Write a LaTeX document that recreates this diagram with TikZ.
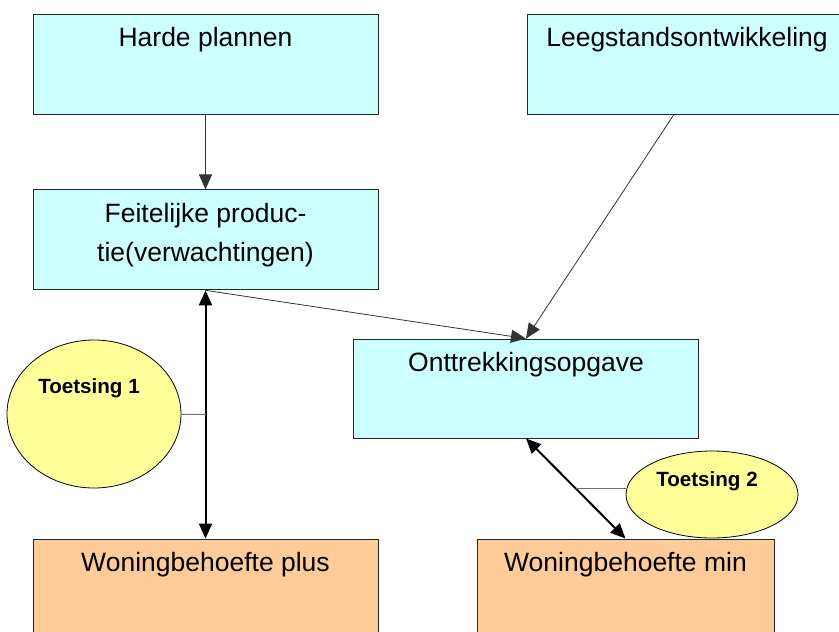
\documentclass[tikz,border=0pt]{standalone}
\usepackage{fontspec}
\setmainfont{Liberation Sans}
\usepackage{tikz}
\usetikzlibrary{arrows.meta,positioning,shapes.geometric}
\definecolor{boxcyan}{RGB}{204,255,255}
\definecolor{boxorange}{RGB}{255,204,153}
\definecolor{ovalyellow}{RGB}{255,255,153}
\tikzset{
  box/.style={draw=black!85, line width=0.9pt, minimum width=345pt, minimum height=100pt, inner sep=0pt, fill=boxcyan},
  needbox/.style={box, fill=boxorange},
  boxtext/.style={anchor=north, yshift=-14pt, inner sep=0pt, align=center, font=\fontsize{26.5}{39}\selectfont},
  toets/.style={ellipse, draw=black, line width=0.8pt, fill=ovalyellow, inner sep=0pt},
  toetstext/.style={anchor=north, inner sep=0pt, font=\fontsize{20.6}{24}\selectfont\bfseries},
  arrow/.style={-{Triangle[length=15pt,width=13pt]}, line width=0.8pt, draw=black!80},
  dblarrow/.style={{Triangle[length=15pt,width=13pt]}-{Triangle[length=15pt,width=13pt]}, line width=2pt},
  link/.style={line width=1pt, draw=black!55}
}
\begin{document}
\begin{tikzpicture}[x=1pt, y=-1pt]
  \path[use as bounding box, clip] (0,0) rectangle (839,632);
  \node[box, label={[boxtext]north:Harde plannen}] (plannen) at (205.5,64) {};
  \node[box, below=75pt of plannen, label={[boxtext]north:Feitelijke produc-\\tie(verwachtingen)}] (productie) {};
  \node[box, minimum width=320pt, label={[boxtext]north:Leegstandsontwikkeling}] (leegstand) at (687,64) {};
  \node[box, minimum height=99pt, label={[boxtext]north:Onttrekkingsopgave}] (onttrekking) at (526,388.5) {};
  \node[needbox, label={[boxtext]north:Woningbehoefte plus}] (plus) at (205.5,589) {};
  \node[needbox, minimum width=297pt, label={[boxtext]north:Woningbehoefte min}] (min) at (625.5,589) {};

  \node[toets, minimum width=174pt, minimum height=148pt, label={[toetstext, yshift=-39pt, xshift=-5pt]north:Toetsing 1}] (toets1) at (94,414) {};
  \node[toets, minimum width=172pt, minimum height=87pt, label={[toetstext, yshift=-21pt, xshift=-5pt]north:Toetsing 2}] (toets2) at (712,494.5) {};

  \draw[arrow] (plannen) -- (productie);
  \draw[arrow] ([xshift=-13pt]leegstand.south) -- (onttrekking.north);
  \draw[arrow] (productie.south) -- (onttrekking.north);
  \draw[dblarrow] (productie.south) -- coordinate (mid1) (plus.north);
  \draw[dblarrow] (onttrekking.south) -- coordinate (mid2) (min.north);
  \draw[link] (toets1) -- (mid1);
  \draw[link] (toets2.west |- mid2) -- (mid2);
\end{tikzpicture}
\end{document}
